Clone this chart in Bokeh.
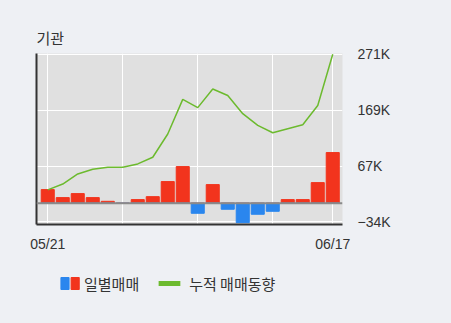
from bokeh.plotting import figure
from bokeh.models import Range1d, FixedTicker, LinearAxis, Span, ColumnDataSource
from bokeh.layouts import column
from bokeh.embed import file_html
from bokeh.resources import INLINE

dates = ["05/21", "05/24", "05/25", "05/26", "05/27", "05/28", "05/31", "06/01", "06/02", "06/03",
         "06/04", "06/07", "06/08", "06/09", "06/10", "06/11", "06/14", "06/15", "06/16", "06/17"]
daily = [24900, 10300, 17600, 10300, 3600, 0, 6700, 12100, 39500, 66800,
         -18200, 34000, -10900, -35200, -20000, -14600, 6700, 6700, 37600, 92300]
cumulative = [24300, 35000, 53400, 62000, 65600, 65600, 71600, 83800, 126000, 189000,
              174000, 208000, 196000, 163000, 141700, 128400, 135700, 143000, 178000, 271000]
y_ticks = [-34000, 67000, 169000, 271000]
y_tick_labels = ["−34K", "67K", "169K", "271K"]
x_label_idx = [0, 19]
x_grid_idx = [0, 5, 10, 15, 19]
title_text = "기관"
legend_bar = "일별매매"
legend_line = "누적 매매동향"

BG = "#eef0f4"
PLOT_BG = "#e0e0e0"
RED = "#f2341d"
BLUE = "#2a86ee"
GREEN = "#6cba2e"
TXT = "#333333"
KFONT = "Noto Sans CJK KR"
NFONT = "Liberation Sans"

xs = list(range(len(dates)))
pos = [v if v > 0 else 0 for v in daily]
neg = [v if v < 0 else 0 for v in daily]
src = ColumnDataSource(dict(x=xs, pos=pos, neg=neg, cum=cumulative))

p = figure(width=451, height=258, output_backend="svg", toolbar_location=None,
           x_range=Range1d(-0.75, 19.65), y_range=Range1d(-38600, 272500),
           y_axis_location="right", title=title_text,
           min_border_left=36, min_border_right=109, min_border_top=53, min_border_bottom=34,
           styles={"background-color": BG})
p.background_fill_color = PLOT_BG
p.border_fill_color = BG
p.outline_line_color = None
p.title.text_font = KFONT
p.title.text_font_size = "15px"
p.title.text_font_style = "normal"
p.title.text_color = TXT
p.title.align = "left"
p.title.offset = 0
p.title.standoff = 11

p.vbar(x="x", top="pos", bottom=0, width=0.87, color=RED, source=src)
p.vbar(x="x", top="neg", bottom=0, width=0.87, color=BLUE, source=src)
p.line(x="x", y="cum", color=GREEN, line_width=1.5, source=src)

p.add_layout(Span(location=0, dimension="width", line_color="#8a8a8a", line_width=2))

# axes
xa = p.xaxis[0]
xa.ticker = FixedTicker(ticks=x_label_idx)
xa.major_label_overrides = {i: dates[i] for i in x_label_idx}
xa.axis_line_color = TXT
xa.axis_line_width = 2
xa.major_tick_line_color = None
xa.minor_tick_line_color = None
xa.major_label_text_font = NFONT
xa.major_label_text_font_size = "14px"
xa.major_label_text_color = TXT
xa.major_label_standoff = 5

ya = p.yaxis[0]
ya.ticker = FixedTicker(ticks=y_ticks)
ya.major_label_overrides = {t: l for t, l in zip(y_ticks, y_tick_labels)}
ya.axis_line_color = None
ya.major_tick_line_color = None
ya.minor_tick_line_color = None
ya.major_label_text_font = NFONT
ya.major_label_text_font_size = "14px"
ya.major_label_text_color = TXT
ya.major_label_standoff = 9

la = LinearAxis(ticker=FixedTicker(ticks=[]), axis_line_color=TXT, axis_line_width=2,
                major_tick_line_color=None, minor_tick_line_color=None,
                major_label_text_font_size="0px")
p.add_layout(la, "left")

p.xgrid[0].ticker = FixedTicker(ticks=x_grid_idx)
p.xgrid[0].grid_line_color = "white"
p.ygrid[0].grid_line_color = "white"
p.xgrid[0].grid_line_width = 1
p.ygrid[0].grid_line_width = 1

# legend strip
lg = figure(width=451, height=65, output_backend="svg", toolbar_location=None,
            x_range=Range1d(0, 451), y_range=Range1d(0, 65),
            min_border=0, styles={"background-color": BG})
lg.axis.visible = False
lg.grid.visible = False
lg.outline_line_color = None
lg.background_fill_color = BG
lg.border_fill_color = BG
lg.quad(left=[36], right=[48], bottom=[34], top=[46], color=BLUE)
lg.quad(left=[51], right=[63], bottom=[34], top=[46], color=RED)
lg.segment(x0=[180], x1=[212], y0=[40], y1=[40], line_color=GREEN, line_width=5)
lg.text(x=[70], y=[40], text=[legend_bar], text_font={"value": KFONT}, text_font_size="15px",
        text_color=TXT, text_baseline="middle")
lg.text(x=[225], y=[40], text=[legend_line], text_font={"value": KFONT}, text_font_size="15px",
        text_color=TXT, text_baseline="middle")

layout = column(p, lg, spacing=0, styles={"background-color": BG})
open("out.html", "w").write(file_html(layout, INLINE))
